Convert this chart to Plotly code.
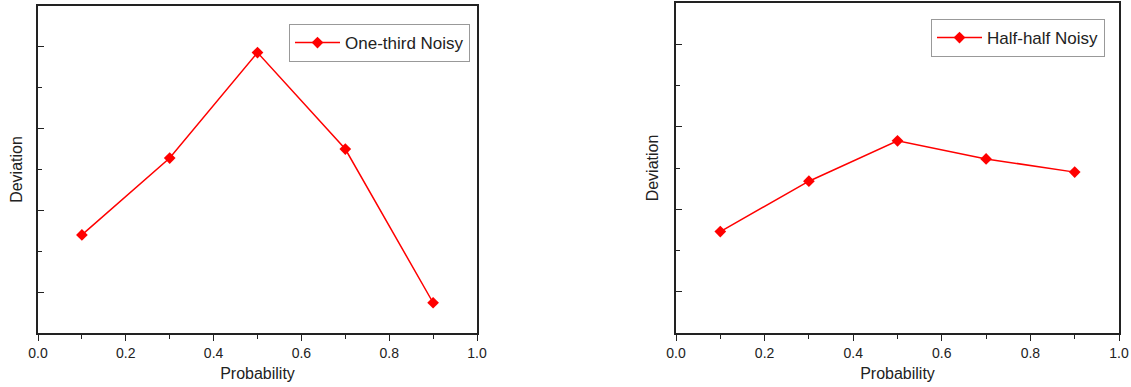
import plotly.graph_objects as go

prob = [0.1, 0.3, 0.5, 0.7, 0.9]
one_third = [1.70, 2.64, 3.93, 2.75, 0.87]
half_half = [1.73, 2.34, 2.83, 2.61, 2.45]
x_ticks = [0.0, 0.2, 0.4, 0.6, 0.8, 1.0]
x_tick_labels = ["0.0", "0.2", "0.4", "0.6", "0.8", "1.0"]

W, H = 1131, 387
FONT = "Liberation Sans, Arial, sans-serif"
RED = "#ff0000"

fig = go.Figure()
fig.add_trace(go.Scatter(x=prob, y=one_third, mode="lines+markers", name="One-third Noisy",
                         line=dict(color=RED, width=1.5),
                         marker=dict(symbol="diamond", size=9, color=RED),
                         xaxis="x", yaxis="y", legend="legend"))
fig.add_trace(go.Scatter(x=prob, y=half_half, mode="lines+markers", name="Half-half Noisy",
                         line=dict(color=RED, width=1.5),
                         marker=dict(symbol="diamond", size=9, color=RED),
                         xaxis="x2", yaxis="y2", legend="legend2"))

def xax(domain, anchor):
    return dict(domain=domain, anchor=anchor, range=[0, 1], tickvals=x_ticks, ticktext=x_tick_labels,
                ticks="outside", ticklen=6, tickwidth=1.2, tickcolor="#222",
                minor=dict(ticks="outside", ticklen=4, dtick=0.1, tick0=0, tickcolor="#222", tickwidth=1.2),
                showline=True, linecolor="#222", linewidth=1.5, mirror=True,
                showgrid=False, zeroline=False, automargin=False,
                tickfont=dict(family=FONT, size=14, color="#222"),
                title=dict(text="Probability", font=dict(family=FONT, size=16, color="#222"), standoff=8))

def yax(domain, anchor, standoff):
    return dict(domain=domain, anchor=anchor, range=[0.5, 4.5], tickvals=[1, 2, 3, 4],
                ticks="inside", ticklen=6, tickwidth=1.2, tickcolor="#222",
                minor=dict(ticks="inside", ticklen=4, dtick=0.5, tick0=0.5, tickcolor="#222", tickwidth=1.2),
                showticklabels=False,
                showline=True, linecolor="#222", linewidth=1.5, mirror=True,
                showgrid=False, zeroline=False, automargin=False,
                title=dict(text="Deviation", font=dict(family=FONT, size=16, color="#222"), standoff=standoff))

def legend(xr, yt):
    return dict(x=xr / W, xanchor="right", y=1 - yt / H, yanchor="top",
                bgcolor="white", bordercolor="#999", borderwidth=1,
                font=dict(family=FONT, size=17, color="#222"),
                tracegroupgap=0, itemwidth=45)

fig.update_layout(
    width=W, height=H,
    margin=dict(l=0, r=0, t=0, b=0, autoexpand=False),
    paper_bgcolor="white", plot_bgcolor="white",
    xaxis=xax([38 / W, 477 / W], "y"),
    yaxis=yax([1 - 333 / H, 1 - 6 / H], "x", 10),
    xaxis2=xax([676 / W, 1119 / W], "y2"),
    yaxis2=yax([1 - 333 / H, 1 - 3 / H], "x2", 12),
    legend=legend(470, 24),
    legend2=legend(1105, 19),
    showlegend=True,
)

fig.write_html("out.html")
